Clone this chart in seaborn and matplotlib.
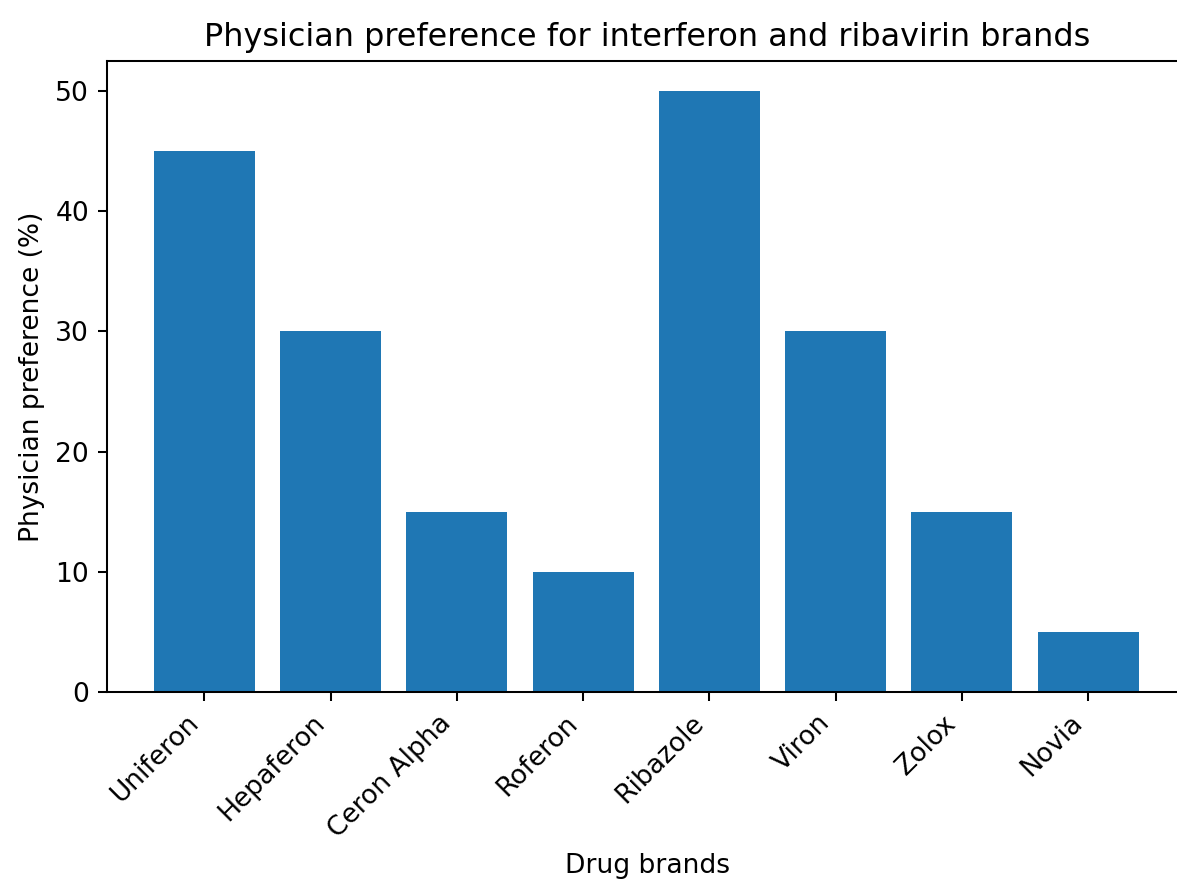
import matplotlib
matplotlib.use("Agg")
import matplotlib.pyplot as plt
import seaborn as sns
import pandas as pd

brands = ["Uniferon", "Hepaferon", "Ceron Alpha", "Roferon", "Ribazole", "Viron", "Zolox", "Novia"]
preference = [45, 30, 15, 10, 50, 30, 15, 5]

df = pd.DataFrame({"brand": brands, "pref": preference})

sns.set_style("ticks")
plt.rcParams["font.family"] = ["DejaVu Sans"]
plt.rcParams["text.color"] = "black"
plt.rcParams["axes.labelcolor"] = "black"

W, H, DPI = 1177, 880, 184
FS = 10.4
fig = plt.figure(figsize=(W / DPI, H / DPI), dpi=DPI)
ax = fig.add_axes([107 / W, 1 - 692 / H, 1081 / W, 631 / H])

sns.barplot(data=df, x="brand", y="pref", color="#1f77b4", saturation=1,
            width=0.8, linewidth=0, ax=ax)
ax.set_xlim(-0.77, 7.79)
ax.set_ylim(0, 52.5)
ax.set_yticks([0, 10, 20, 30, 40, 50])
ax.set_xlabel("Drug brands", fontsize=FS, color="black")
ax.set_ylabel("Physician preference (%)", fontsize=FS, color="black")
ax.set_title("Physician preference for interferon and ribavirin brands", fontsize=FS * 1.2, color="black")
plt.setp(ax.get_xticklabels(), rotation=45, ha="right", fontsize=FS)
plt.setp(ax.get_yticklabels(), fontsize=FS)
for s in ax.spines.values():
    s.set_visible(True)
    s.set_linewidth(0.8)
    s.set_color("black")
ax.tick_params(axis="both", length=3.5, width=0.8, color="black", labelcolor="black")

fig.savefig("out.png", dpi=DPI)
